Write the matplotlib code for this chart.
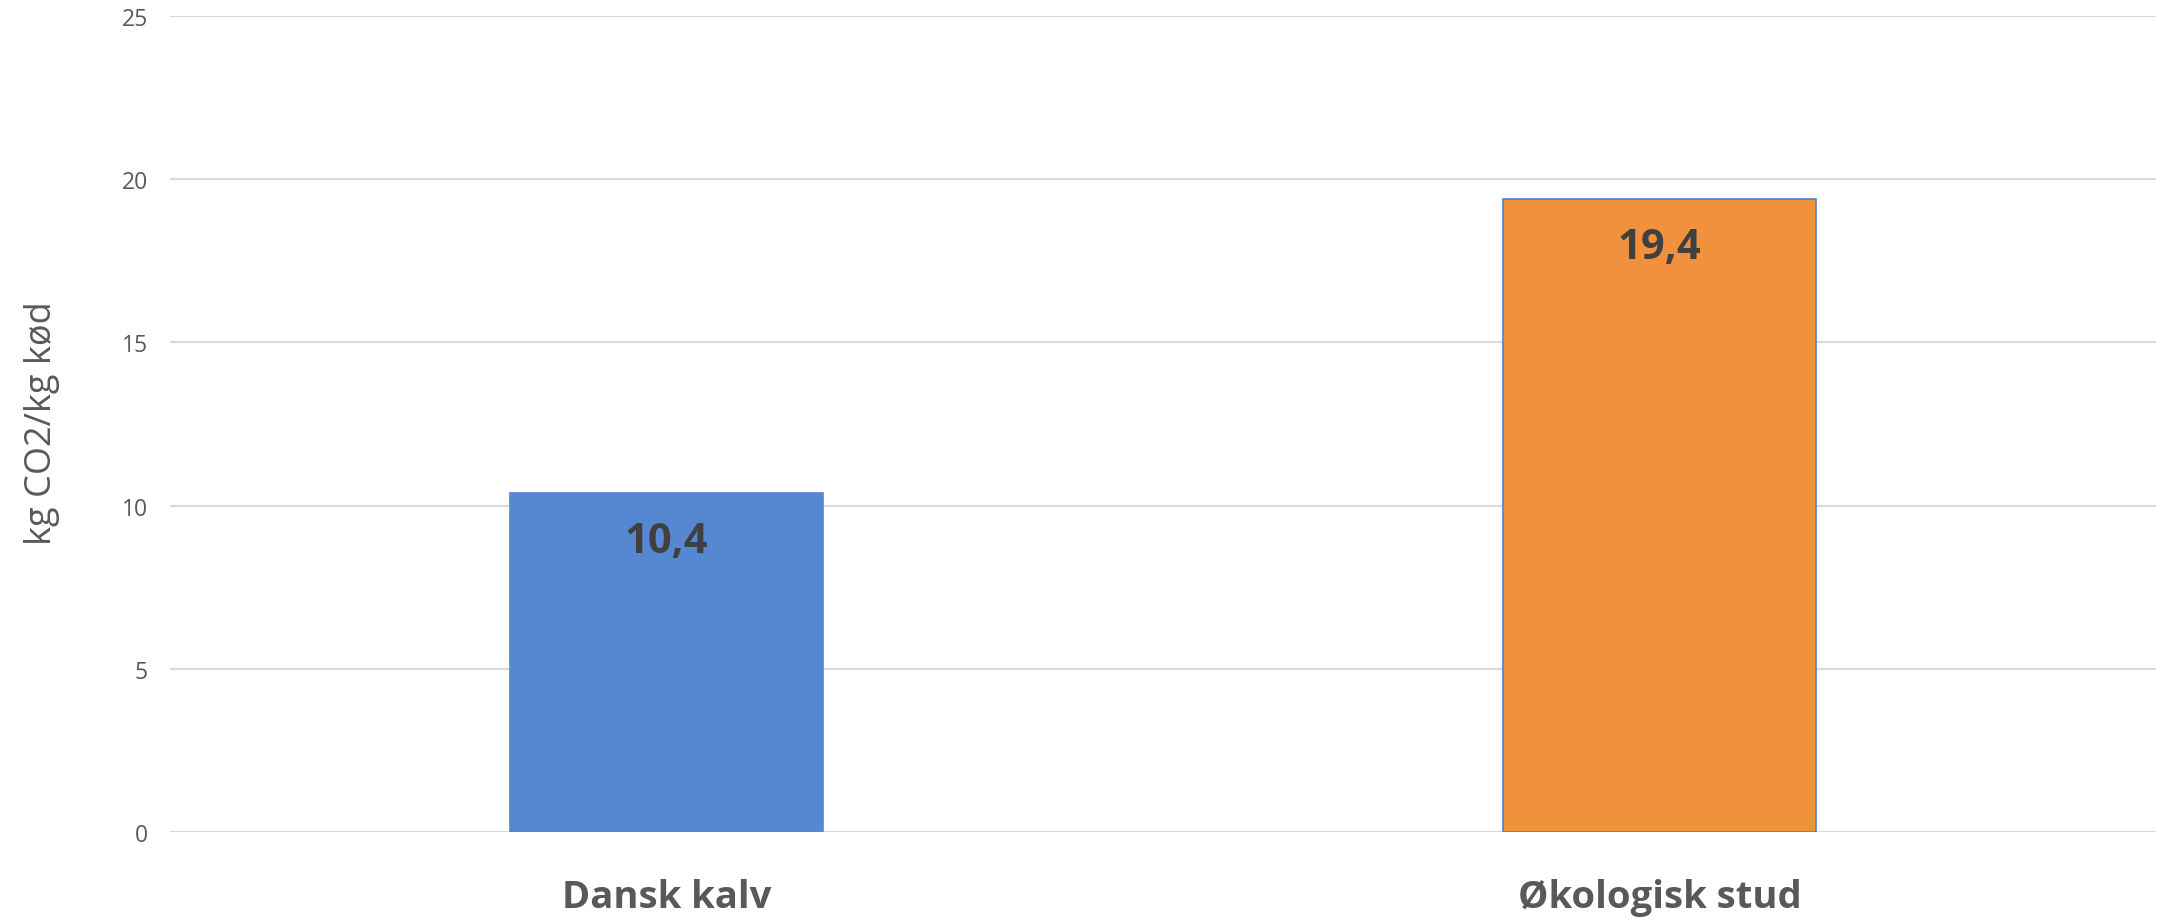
import matplotlib.pyplot as plt

plt.rcParams['font.family'] = ['Open Sans', 'DejaVu Sans']

# Data
categories = ['Dansk kalv', 'Økologisk stud']
values = [10.4, 19.4]
value_labels = ['10,4', '19,4']
bar_colors = ['#5588d0', '#f2913d']
edge_colors = ['#5588d0', '#4f81d0']
yticks = [0, 5, 10, 15, 20, 25]

fig = plt.figure(figsize=(21.58, 9.2), dpi=100)
ax = fig.add_axes([170 / 2158, 1 - 833 / 920, 1986 / 2158, 816 / 920])

x = range(len(categories))
ax.bar(x, values, width=0.315, color=bar_colors, edgecolor=edge_colors,
       linewidth=1.2, zorder=3)
ax.set_xlim(-0.5, 1.5)
ax.set_ylim(0, 25)

ax.set_yticks(yticks)
ax.set_yticklabels([str(t) for t in yticks], fontsize=16.5, color='#595959')
ax.yaxis.grid(True, color='#d9d9d9', linewidth=1.5, zorder=0)
ax.tick_params(axis='y', length=0, pad=16)
ax.tick_params(axis='x', length=0, pad=33)
ax.set_xticks(list(x))
ax.set_xticklabels(categories, fontsize=27.5, fontweight='bold', color='#595959')

for s in ax.spines.values():
    s.set_visible(False)

for xi, v, lab in zip(x, values, value_labels):
    ax.text(xi, v - 1.5, lab, ha='center', va='center', fontsize=30,
            fontweight='bold', color='#404040', zorder=4)

fig.text(42 / 2158, 1 - 423 / 920, 'kg CO2/kg kød', rotation=90, ha='center',
         va='center', fontsize=26, color='#595959')

fig.savefig('out.png', dpi=100, facecolor='white')
